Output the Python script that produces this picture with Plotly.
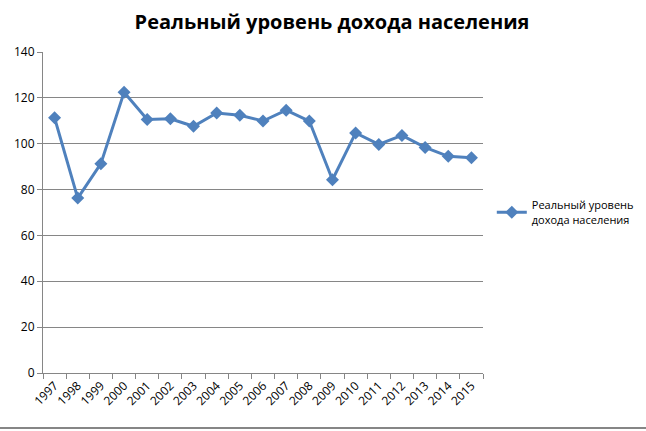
import plotly.graph_objects as go

years = ["1997", "1998", "1999", "2000", "2001", "2002", "2003", "2004", "2005", "2006",
         "2007", "2008", "2009", "2010", "2011", "2012", "2013", "2014", "2015"]
values = [111.3, 76.3, 91.3, 122.4, 110.6, 110.9, 107.6, 113.4, 112.4, 109.9,
          114.6, 109.9, 84.3, 104.7, 99.7, 103.6, 98.4, 94.5, 93.9]
series_name = "Реальный уровень<br>дохода населения"
title_text = "Реальный уровень дохода населения"
y_ticks = [0, 20, 40, 60, 80, 100, 120, 140]

color = "#4F81BD"
font_family = "Open Sans, Liberation Sans, sans-serif"

fig = go.Figure()
fig.add_trace(go.Scatter(
    x=years, y=values, name=series_name, mode="lines+markers",
    line=dict(color=color, width=3),
    marker=dict(symbol="diamond", size=10, color=color),
    showlegend=True,
))

fig.update_layout(
    width=646, height=431,
    margin=dict(l=43, r=163, t=52, b=58, autoexpand=False),
    paper_bgcolor="white", plot_bgcolor="white",
    font=dict(family=font_family, size=12, color="#000000"),
    title=dict(text="<b>" + title_text + "</b>", x=332 / 646, xanchor="center",
               y=1 - 22 / 431, yanchor="middle",
               font=dict(size=20, family=font_family, color="#000000")),
    xaxis=dict(type="category", tickson="boundaries", ticks="outside", ticklen=5,
               tickcolor="#868686", showline=True, linecolor="#868686", linewidth=1,
               showgrid=False, tickangle=-45, tickfont=dict(size=12),
               range=[-0.5, len(years) - 0.5]),
    yaxis=dict(range=[0, 140], tickvals=y_ticks, ticks="outside", ticklen=5,
               tickcolor="#868686", showline=True, linecolor="#868686", linewidth=1,
               showgrid=True, gridcolor="#868686", gridwidth=1, zeroline=False,
               tickfont=dict(size=12)),
    legend=dict(x=1.02, y=0.5, xanchor="left", yanchor="middle",
                font=dict(size=11), bgcolor="rgba(0,0,0,0)", tracegroupgap=0),
)

fig.add_shape(type="line", xref="paper", yref="paper",
              x0=-43 / 440, x1=(646 - 43) / 440,
              y0=-(428 - 373) / 321, y1=-(428 - 373) / 321,
              line=dict(color="#868686", width=2))

fig.write_html("out.html")
